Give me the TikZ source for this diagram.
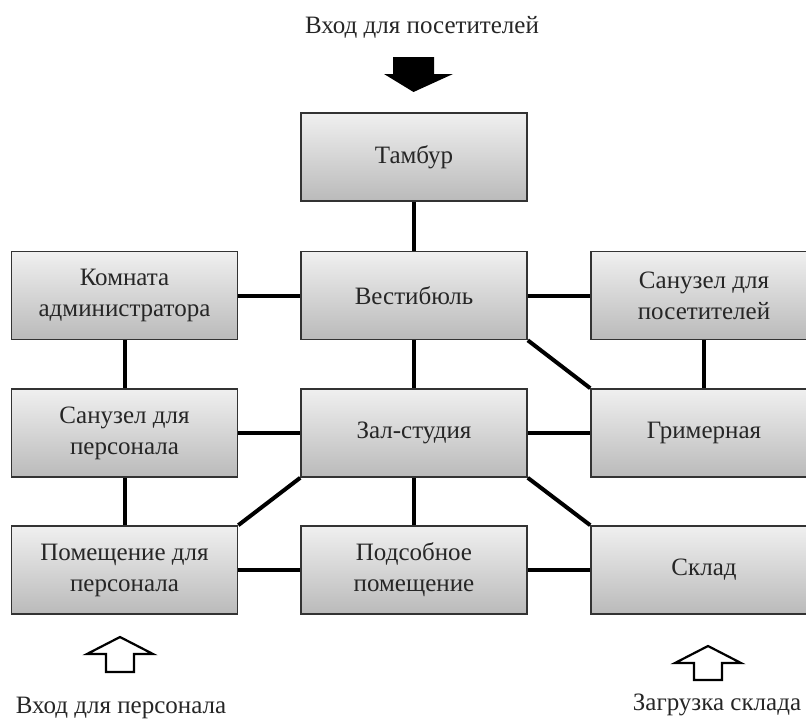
\documentclass[tikz,border=0pt]{standalone}
\usepackage{fontspec}
\setmainfont{Liberation Serif}
\begin{document}
\begin{tikzpicture}[x=1pt,y=-1pt,
  room/.style={draw=black!80, line width=1.6pt, top color=white!94!black, bottom color=white!73!black,
    minimum width=226pt, minimum height=88pt, inner sep=0pt, align=center,
    font=\fontsize{25}{31}\selectfont, text=black!85},
  link/.style={line width=4pt, black},
  lbl/.style={font=\fontsize{25}{31}\selectfont, text=black!85, anchor=base, inner sep=0pt},
  hollow/.style={draw=black, line width=2.2pt, fill=white, line join=miter}
]
\useasboundingbox (0,0) rectangle (806,720);
\fill[white] (0,0) rectangle (806,720);

% rooms
\node[room] (tambur) at (414,157) {Тамбур};
\node[room] (admin) at (124.5,295.5) {Комната\\администратора};
\node[room] (vest) at (414,295.5) {Вестибюль};
\node[room] (sanv) at (704,295.5) {Санузел для\\посетителей};
\node[room] (sanp) at (124.5,433) {Санузел для\\персонала};
\node[room] (zal) at (414,433) {Зал-студия};
\node[room] (grim) at (704,433) {Гримерная};
\node[room] (pomp) at (124.5,570) {Помещение для\\персонала};
\node[room] (podsob) at (414,570) {Подсобное\\помещение};
\node[room] (sklad) at (704,570) {Склад};

% connectors
\draw[link] (tambur.south) -- (vest.north);
\draw[link] (admin.east) -- (vest.west);
\draw[link] (vest.east) -- (sanv.west);
\draw[link] (vest.south east) -- (grim.north west);
\draw[link] (sanv.south) -- (grim.north);
\draw[link] (admin.south) -- (sanp.north);
\draw[link] (vest.south) -- (zal.north);
\draw[link] (sanp.east) -- (zal.west);
\draw[link] (zal.east) -- (grim.west);
\draw[link] (sanp.south) -- (pomp.north);
\draw[link] (zal.south west) -- (pomp.north east);
\draw[link] (zal.south) -- (podsob.north);
\draw[link] (zal.south east) -- (sklad.north west);
\draw[link] (pomp.east) -- (podsob.west);
\draw[link] (podsob.east) -- (sklad.west);

% labels
\node[lbl] (tin) at (422,33) {Вход для посетителей};
\node[lbl] (pin) at (121,713) {Вход для персонала};
\node[lbl] (sin) at (717,710) {Загрузка склада};

% entrance arrows
\fill[black] (393,57) -- (434,57) -- (434,74) -- (453,74) -- (413.5,92) -- (384,74) -- (393,74) -- cycle;
\draw[hollow] (106,672) -- (134,672) -- (134,654) -- (153,654) -- (120,637) -- (87,654) -- (106,654) -- cycle;
\draw[hollow] (694,680) -- (722,680) -- (722,663) -- (741,663) -- (708,646) -- (675,663) -- (694,663) -- cycle;
\end{tikzpicture}
\end{document}
